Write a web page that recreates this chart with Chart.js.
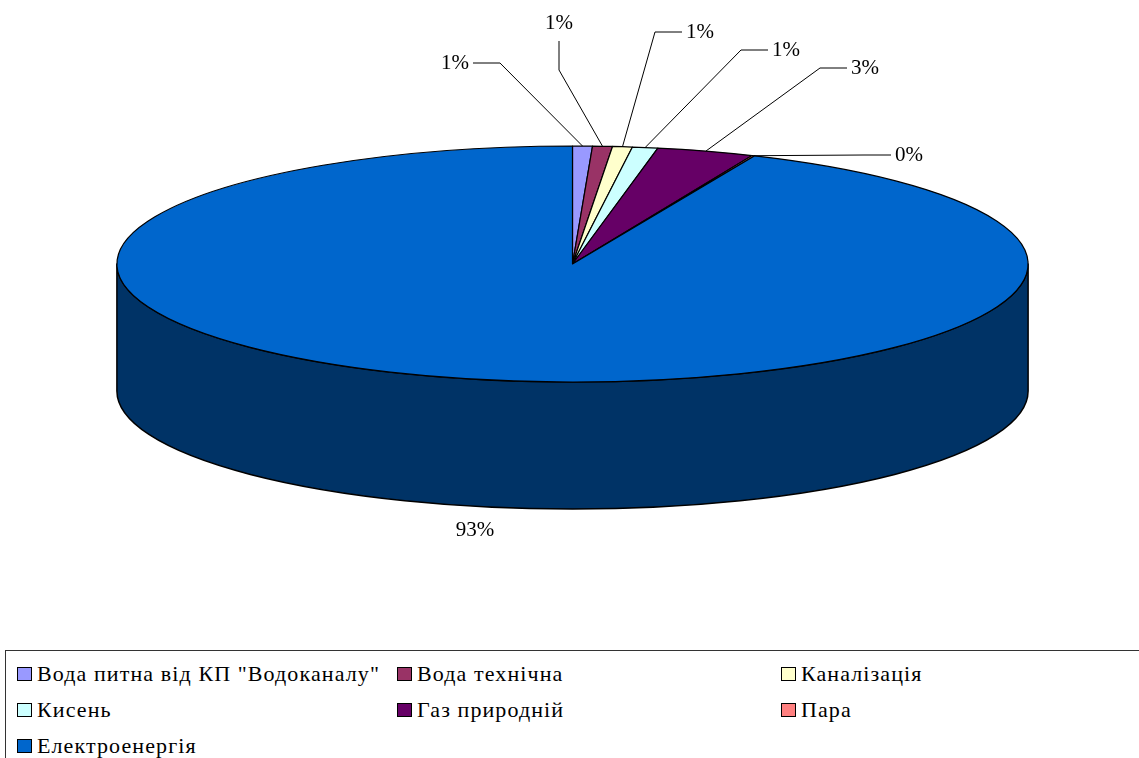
<!DOCTYPE html>
<html>
<head>
<meta charset="utf-8">
<script src="https://cdn.jsdelivr.net/npm/chart.js@4.4.0/dist/chart.umd.min.js"></script>
<style>
  body { margin: 0; background: #fff; width: 1139px; height: 758px; overflow: hidden; position: relative;
         font-family: "Liberation Serif", Tinos, "Times New Roman", "DejaVu Serif", serif; }
  #pie { position: absolute; left: 0; top: 0; }
  #legend { position: absolute; left: 5px; top: 650px; width: 1200px; height: 150px;
            border: 1px solid #333; box-sizing: border-box; }
  #legend ul { list-style: none; margin: 0; padding: 5px 0 0 11px; display: grid;
               grid-template-columns: 380px 384px 380px; grid-auto-rows: 36px; }
  #legend li { display: flex; align-items: center; font-size: 22px; letter-spacing: 1.1px; color: #000; white-space: nowrap; }
  #legend .box { width: 13px; height: 12px; border: 1px solid #000; margin-right: 5px; flex: none; }
</style>
</head>
<body>
<canvas id="pie" width="1139" height="645"></canvas>
<div id="legend"><ul></ul></div>
<script>
// структура витрат ресурсів, %
const categories = ['Вода питна від КП "Водоканалу"', 'Вода технічна', 'Каналізація', 'Кисень', 'Газ природній', 'Пара', 'Електроенергія'];
const shares = [0.7, 0.7, 0.7, 0.9, 3.45, 0.1, 93.45];
const sliceColors = ['#9999FF', '#993366', '#FFFFCC', '#CCFFFF', '#660066', '#FF8080', '#0066CC'];

// where the % labels sit and which side the leader leaves from
const labelPos = [[455, 63], [559, 23], [700, 32], [786, 50], [865, 68], [909, 155], [475, 530]];
const leaderFrom = ['right', 'below', 'left', 'left', 'left', 'left', null];

const tilt = 0.259;   // vertical squash of the disc
const depth = 127;    // thickness of the side wall
const labelFont = '21px "Liberation Serif", Tinos, "Times New Roman", "DejaVu Serif", serif';

function shade(hex) {
    const n = parseInt(hex.slice(1), 16);
    const r = (n >> 16) & 255, g = (n >> 8) & 255, b = n & 255;
    return 'rgb(' + Math.round(r * 0.5) + ',' + Math.round(g * 0.5) + ',' + Math.round(b * 0.5) + ')';
}

function arcProps(arc) {
    const p = arc.getProps(['x', 'y', 'startAngle', 'endAngle', 'outerRadius'], true);
    p.ry = p.outerRadius;
    p.rx = p.outerRadius / tilt;
    return p;
}

const pie3d = {
    id: 'pie3d',
    beforeDatasetsDraw(chart) {
        const ctx = chart.ctx;
        const arcs = chart.getDatasetMeta(0).data;
        const colors = chart.data.datasets[0].backgroundColor;
        ctx.save();
        ctx.lineJoin = 'round';
        ctx.strokeStyle = '#000';

        // side wall, only the front half is visible
        arcs.forEach((arc, i) => {
            const p = arcProps(arc);
            const a0 = Math.max(p.startAngle, 0);
            const a1 = Math.min(p.endAngle, Math.PI);
            if (a1 <= a0) return;
            ctx.beginPath();
            ctx.ellipse(p.x, p.y, p.rx, p.ry, 0, a0, a1);
            ctx.lineTo(p.x + p.rx * Math.cos(a1), p.y + p.ry * Math.sin(a1) + depth);
            ctx.ellipse(p.x, p.y + depth, p.rx, p.ry, 0, a1, a0, true);
            ctx.closePath();
            ctx.fillStyle = shade(colors[i]);
            ctx.fill();
            ctx.lineWidth = 1.5;
            ctx.stroke();
        });

        // top face
        arcs.forEach((arc, i) => {
            const p = arcProps(arc);
            ctx.beginPath();
            ctx.moveTo(p.x, p.y);
            ctx.ellipse(p.x, p.y, p.rx, p.ry, 0, p.startAngle, p.endAngle);
            ctx.closePath();
            ctx.fillStyle = colors[i];
            ctx.fill();
            ctx.lineWidth = 1.2;
            ctx.stroke();
        });
        ctx.restore();
        return false;
    },
    afterDraw(chart) {
        const ctx = chart.ctx;
        const arcs = chart.getDatasetMeta(0).data;
        const values = chart.data.datasets[0].data;
        const total = values.reduce((a, b) => a + b, 0);
        ctx.save();
        ctx.font = labelFont;
        ctx.fillStyle = '#000';
        ctx.strokeStyle = '#000';
        ctx.lineWidth = 1;
        ctx.textAlign = 'center';
        ctx.textBaseline = 'middle';
        arcs.forEach((arc, i) => {
            const p = arcProps(arc);
            const txt = Math.round(values[i] / total * 100) + '%';
            const [tx, ty] = labelPos[i];
            ctx.fillText(txt, tx, ty);
            const side = leaderFrom[i];
            if (!side) return;
            const mid = (p.startAngle + p.endAngle) / 2;
            const ax = p.x + p.rx * Math.cos(mid);
            const ay = p.y + p.ry * Math.sin(mid);
            const w = ctx.measureText(txt).width;
            let sx, sy, kx, ky;
            if (side === 'right') { sx = tx + w / 2 + 4; sy = ty; kx = sx + 27; ky = sy; }
            else if (side === 'left') { sx = tx - w / 2 - 4; sy = ty; kx = sx - 27; ky = sy; }
            else { sx = tx; sy = ty + 18; kx = sx; ky = sy + 29; }
            ctx.beginPath();
            ctx.moveTo(sx, sy);
            ctx.lineTo(kx, ky);
            ctx.lineTo(ax, ay);
            ctx.stroke();
        });
        ctx.restore();
    }
};

new Chart(document.getElementById('pie'), {
    type: 'pie',
    data: {
        labels: categories,
        datasets: [{
            data: shares,
            backgroundColor: sliceColors,
            borderWidth: 0,
            hoverOffset: 0
        }]
    },
    options: {
        responsive: false,
        animation: false,
        events: [],
        layout: { padding: { left: 117, right: 111, top: 146, bottom: 263 } },
        plugins: {
            legend: { display: false },
            tooltip: { enabled: false }
        }
    },
    plugins: [pie3d]
});

// legend below the chart
const list = document.querySelector('#legend ul');
categories.forEach((name, i) => {
    const li = document.createElement('li');
    const box = document.createElement('span');
    box.className = 'box';
    box.style.background = sliceColors[i];
    li.appendChild(box);
    li.appendChild(document.createTextNode(name));
    list.appendChild(li);
});
</script>
</body>
</html>
